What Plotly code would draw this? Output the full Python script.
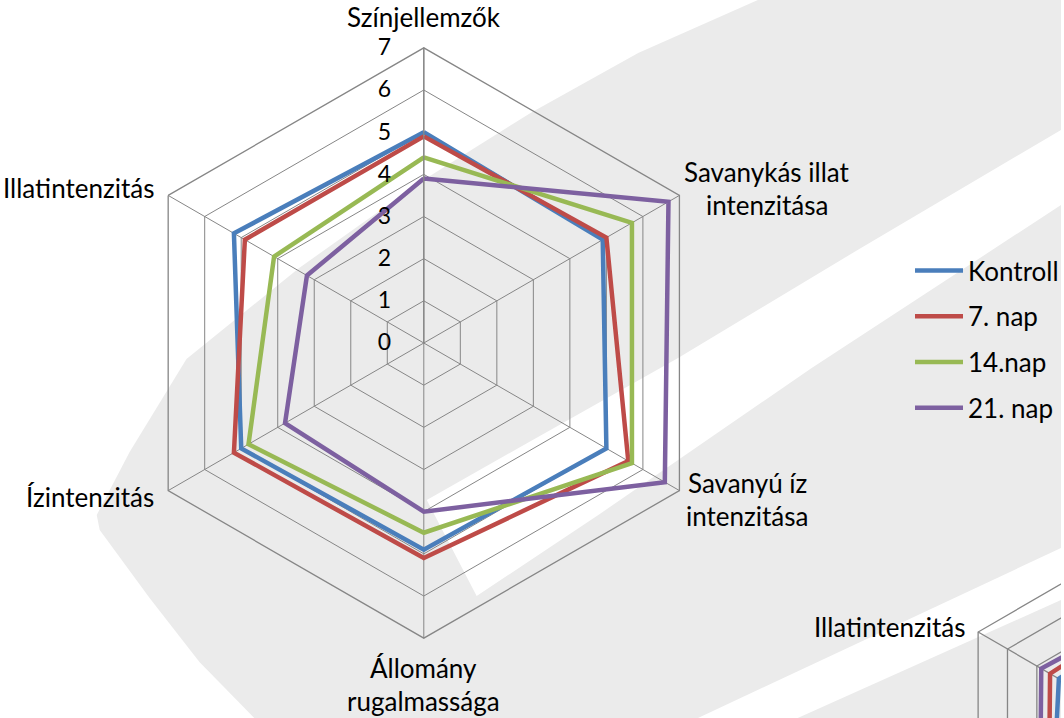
import math
import plotly.graph_objects as go

# ---- data -------------------------------------------------------------
categories = ["Színjellemzők", "Savanykás illat intenzitása", "Savanyú íz intenzitása",
              "Állomány rugalmassága", "Ízintenzitás", "Illatintenzitás"]
category_lines = [["Színjellemzők"], ["Savanykás illat", "intenzitása"],
                  ["Savanyú íz", "intenzitása"], ["Állomány", "rugalmassága"],
                  ["Ízintenzitás"], ["Illatintenzitás"]]
series_names = ["Kontroll", "7. nap", "14.nap", "21. nap"]
kontroll = [5.0, 4.9, 5.0, 4.9, 5.0, 5.2]
nap_7 = [4.9, 5.0, 5.6, 5.1, 5.2, 4.9]
nap_14 = [4.4, 5.7, 5.7, 4.5, 4.8, 4.1]
nap_21 = [3.9, 6.7, 6.6, 4.0, 3.8, 3.2]
radial_ticks = [0, 1, 2, 3, 4, 5, 6, 7]

# neighbouring panel (only its left corner lies on the page)
panel2_label = "Illatintenzitás"
panel2_kontroll = [4.6, 4.6, 4.7, 4.6, 4.5, 4.25]
panel2_nap_7 = [4.8, 4.9, 5.0, 4.9, 4.6, 4.55]
panel2_nap_14 = [4.0, 5.1, 5.2, 4.3, 4.2, 3.9]
panel2_nap_21 = [4.7, 5.6, 5.6, 4.4, 4.9, 4.85]

colors = ["#4a7ebb", "#be4b48", "#98b954", "#7d60a0"]
grid_color = "#868686"
font_family = "Lato, 'Open Sans', sans-serif"
label_size = 26
tick_size = 23

# ---- page geometry ----------------------------------------------------
W, H = 1064, 718
CX, CY, R = 425, 343, 296          # main radar centre / outer radius (px)
P2X, P2Y, P2R = 1187, 751, 238     # second radar centre / outer radius (px)

fig = go.Figure()

# faint watermark swoosh behind everything
fig.add_shape(type="path", xref="x", yref="y", layer="below", line_width=0,
              fillcolor="#ebebeb",
              path="M 255,718 L 200,662 L 150,598 L 100,530 L 97,515 L 130,452 "
                   "L 187,359 L 300,268 L 420,183 L 532,113 L 640,53 L 760,0 "
                   "L 1064,0 L 1064,718 Z")
fig.add_shape(type="path", xref="x", yref="y", layer="below", line_width=0,
              fillcolor="#ffffff",
              path="M 1064,130 L 860,250 L 680,358 L 520,448 L 428,500 "
                   "L 478,596 L 600,515 L 814,368 L 1064,205 Z")
fig.add_shape(type="path", xref="x", yref="y", layer="below", line_width=0,
              fillcolor="#ffffff",
              path="M 700,718 L 1064,548 L 1064,600 L 800,718 Z")

# ---- main radar -------------------------------------------------------
all_series = [kontroll, nap_7, nap_14, nap_21]
for name, vals, col in zip(series_names, all_series, colors):
    fig.add_trace(go.Scatterpolar(
        r=vals + vals[:1], theta=categories + categories[:1],
        mode="lines", name=name, legendgroup=name,
        line=dict(color=col, width=4.5), subplot="polar"))

dom_x = [(CX - R) / W, (CX + R) / W]
dom_y = [(H - CY - R) / H, (H - CY + R) / H]
fig.update_layout(polar=dict(
    domain=dict(x=dom_x, y=dom_y),
    bgcolor="rgba(0,0,0,0)",
    gridshape="linear",
    angularaxis=dict(direction="clockwise", rotation=90, categoryorder="array",
                     categoryarray=categories, showticklabels=False, ticks="",
                     showline=True, linecolor=grid_color, linewidth=1.3,
                     gridcolor=grid_color, gridwidth=1.3),
    radialaxis=dict(range=[0, 7], tickvals=radial_ticks, angle=90, tickangle=90,
                    side="counterclockwise", ticks="outside", ticklen=24,
                    tickcolor="rgba(0,0,0,0)", showline=True,
                    linecolor=grid_color, linewidth=1.3,
                    gridcolor=grid_color, gridwidth=1.3,
                    tickfont=dict(size=tick_size, color="#000000",
                                  family=font_family)),
))

# category labels around the main radar
label_offsets = [  # (dx, dy of first line, xanchor) relative to each spoke end
    (0, -30, "center"), (88, -23, "center"), (68, -8, "center"),
    (0, 29, "center"), (-12, 6, "right"), (-12, -7, "right")]
for k, lines in enumerate(category_lines):
    ang = math.radians(90 - 60 * k)
    vx, vy = CX + R * math.cos(ang), CY - R * math.sin(ang)
    dx, dy, anchor = label_offsets[k]
    for j, txt in enumerate(lines):
        fig.add_annotation(x=vx + dx, y=vy + dy + 33 * j, xref="x", yref="y",
                           text=txt, showarrow=False, xanchor=anchor,
                           yanchor="middle",
                           font=dict(size=label_size, color="#000000",
                                     family=font_family))

# ---- second radar (drawn on a pixel-scaled cartesian layer) ------------
unit2 = P2R / 7.0


def p2(value, k):
    ang = math.radians(90 - 60 * k)
    return P2X + value * unit2 * math.cos(ang), P2Y - value * unit2 * math.sin(ang)


gx, gy = [], []
for ring in radial_ticks[1:]:
    for k in range(7):
        x, y = p2(ring, k % 6)
        gx.append(x)
        gy.append(y)
    gx.append(None)
    gy.append(None)
for k in range(6):
    x, y = p2(7, k)
    gx += [P2X, x, None]
    gy += [P2Y, y, None]
fig.add_trace(go.Scatter(x=gx, y=gy, mode="lines", showlegend=False,
                         hoverinfo="skip",
                         line=dict(color=grid_color, width=1.3)))

panel2_series = [panel2_kontroll, panel2_nap_7, panel2_nap_14, panel2_nap_21]
for vals, col in zip(panel2_series, colors):
    pts = [p2(v, k) for k, v in enumerate(vals)]
    pts.append(pts[0])
    fig.add_trace(go.Scatter(x=[p[0] for p in pts], y=[p[1] for p in pts],
                             mode="lines", showlegend=False, hoverinfo="skip",
                             line=dict(color=col, width=4.5)))

cx5, cy5 = p2(7, 5)
fig.add_annotation(x=cx5 - 11, y=cy5 - 5, xref="x", yref="y", text=panel2_label,
                   showarrow=False, xanchor="right", yanchor="middle",
                   font=dict(size=label_size, color="#000000", family=font_family))

fig.update_layout(
    width=W, height=H, margin=dict(l=0, r=0, t=0, b=0),
    paper_bgcolor="#ffffff", plot_bgcolor="rgba(0,0,0,0)",
    xaxis=dict(range=[0, W], visible=False, domain=[0, 1], fixedrange=True),
    yaxis=dict(range=[H, 0], visible=False, domain=[0, 1], fixedrange=True),
    showlegend=True,
    legend=dict(x=913 / W, y=1 - 247 / H, xanchor="left", yanchor="top",
                bgcolor="rgba(0,0,0,0)", tracegroupgap=9, itemwidth=48,
                font=dict(size=label_size, color="#000000", family=font_family)),
)

fig.write_html("out.html")
